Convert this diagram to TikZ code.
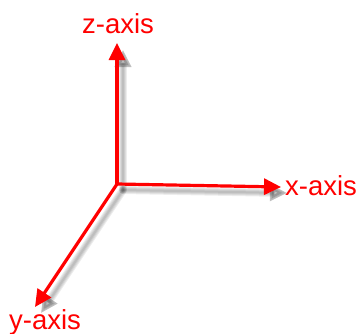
\documentclass[tikz,border=0pt]{standalone}
\usepackage{fontspec}
\setmainfont{Liberation Sans}
\usetikzlibrary{arrows.meta}
\begin{document}
\begin{tikzpicture}[x=1pt,y=-1pt,
  axis/.style={draw=red,line width=3.2pt,-{Triangle[length=17pt,width=16pt]}},
  shadowline/.style={draw=black,line width=#1,opacity=0.07,line cap=round,-{Triangle[length=17pt,width=16pt]}},
  lbl/.style={text=red,font=\fontsize{27.5}{30}\selectfont,inner sep=0pt}]
\useasboundingbox (0,0) rectangle (358,333);
\coordinate (o) at (117,184);
\coordinate (zt) at (117,43);
\coordinate (xt) at (281,187);
\coordinate (yt) at (35,307);
\coordinate (os) at (123,190);
\coordinate (zs) at (123,50);
\coordinate (xs) at (287,193);
\coordinate (ys) at (41,313);
\foreach \w in {2pt,4pt,6pt,8pt}{
  \draw[shadowline=\w] (os) -- (zs);
  \draw[shadowline=\w] (os) -- (xs);
  \draw[shadowline=\w] (os) -- (ys);
}
\draw[axis] (o) -- (zt);
\draw[axis] (o) -- (xt);
\draw[axis] (o) -- (yt);
\node[lbl] (zl) at (118,24) {z-axis};
\node[lbl] (xl) at (321,186) {x-axis};
\node[lbl] (yl) at (45,322) {y-axis};
\end{tikzpicture}
\end{document}
